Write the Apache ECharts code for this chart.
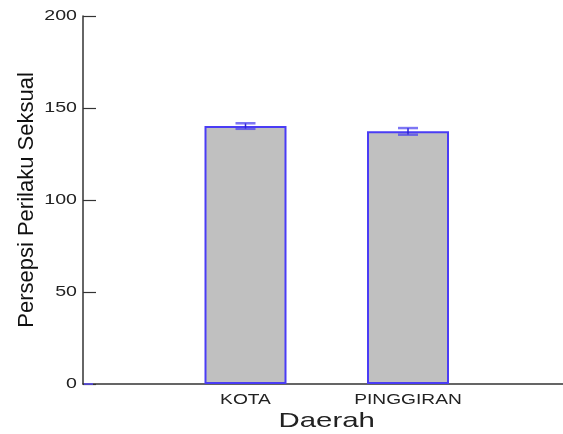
<!DOCTYPE html>
<html>
<head>
<meta charset="utf-8">
<script src="https://cdn.jsdelivr.net/npm/echarts@6/dist/echarts.min.js"></script>
<style>
  html, body { margin: 0; padding: 0; background: #fff; }
  #chart { width: 563px; height: 434px; }
</style>
</head>
<body>
<div id="chart"></div>
<script>
// Mean perception score per region, with its error margin
const categories = ['KOTA', 'PINGGIRAN'];
const means = [140.2, 137.3];
const errors = [1.5, 1.8];
const yTickValues = [0, 50, 100, 150, 200];
const yTickLabels = ['0', '50', '100', '150', '200'];

// Pad the category axis so the bars sit at positions 1 and 2 of 0..3
const axisCats = [''].concat(categories, ['']);
const barData = [null].concat(means, [null]);
const errData = categories.map((c, i) => [i + 1, means[i], errors[i]]);

const FONT = 'Liberation Sans, Arial, sans-serif';
const WIDE = 1.4; // the labels use a wide, stretched face
const chart = echarts.init(document.getElementById('chart'), null, { renderer: 'canvas' });

chart.setOption({
  animation: false,
  backgroundColor: '#ffffff',
  grid: { left: 83, top: 16, height: 368, width: 487.5, containLabel: false, outerBoundsMode: 'none' },
  xAxis: {
    type: 'category',
    data: axisCats,
    boundaryGap: false,
    axisLine: { lineStyle: { color: '#333', width: 1.5 } },
    axisTick: { show: false },
    axisLabel: { show: false },
    splitLine: { show: false }
  },
  yAxis: {
    type: 'value',
    min: yTickValues[0],
    max: yTickValues[yTickValues.length - 1],
    interval: yTickValues[1] - yTickValues[0],
    name: 'Persepsi Perilaku Seksual',
    nameLocation: 'middle',
    nameGap: 45,
    nameTextStyle: { fontFamily: FONT, fontSize: 22, color: '#111' },
    axisLine: { show: true, lineStyle: { color: '#333', width: 1.5 } },
    axisTick: { show: true, inside: true, length: 13, lineStyle: { color: '#333', width: 1.2 } },
    axisLabel: { show: false },
    splitLine: { show: false }
  },
  series: [
    {
      type: 'bar',
      data: barData,
      barWidth: 82,
      itemStyle: { color: '#c0c0c0', borderColor: '#4a3cf5', borderWidth: 2 },
      z: 2
    },
    {
      type: 'custom',
      data: errData,
      z: 5,
      renderItem: function (params, api) {
        const x = api.value(0), m = api.value(1), e = api.value(2);
        const top = api.coord([x, m + e]);
        const bot = api.coord([x, m - e]);
        const half = 10;
        const capStyle = { stroke: 'rgba(70,60,240,0.7)', lineWidth: 2.5 };
        return {
          type: 'group',
          children: [
            { type: 'line', shape: { x1: top[0], y1: top[1], x2: bot[0], y2: bot[1] },
              style: { stroke: '#2a1fd0', lineWidth: 1.5 } },
            { type: 'line', shape: { x1: top[0] - half, y1: top[1], x2: top[0] + half, y2: top[1] },
              style: capStyle },
            { type: 'line', shape: { x1: bot[0] - half, y1: bot[1], x2: bot[0] + half, y2: bot[1] },
              style: capStyle }
          ]
        };
      }
    }
  ]
});

// Axis labels and the x-axis title, placed from the axes' own scales
const axisX = chart.convertToPixel({ xAxisIndex: 0 }, 0);
const axisY0 = chart.convertToPixel({ yAxisIndex: 0 }, 0);
const gridRight = chart.convertToPixel({ xAxisIndex: 0 }, axisCats.length - 1);
const graphics = [];

function wideText(x, y, text, size, align, sx) {
  return {
    type: 'text', x: x, y: y, scaleX: sx, originX: 0, originY: 0,
    style: { text: text, fontFamily: FONT, fontSize: size, fill: '#222',
             align: align, verticalAlign: 'middle' }
  };
}

yTickValues.forEach((v, i) => {
  const y = chart.convertToPixel({ yAxisIndex: 0 }, v);
  graphics.push(wideText(axisX - 6, y, yTickLabels[i], 14, 'right', WIDE));
});

categories.forEach((c, i) => {
  const x = chart.convertToPixel({ xAxisIndex: 0 }, i + 1);
  graphics.push(wideText(x, axisY0 + 16, c, 14, 'center', WIDE - 0.03));
});

const midX = (axisX + gridRight) / 2;
graphics.push(wideText(midX, axisY0 + 37, 'Daerah', 21, 'center', WIDE));

// Zero tick drawn in the bar outline colour
graphics.push({
  type: 'line', z: 10,
  shape: { x1: axisX + 1, y1: axisY0, x2: axisX + 10, y2: axisY0 },
  style: { stroke: '#5a4cf5', lineWidth: 1.5 }
});

chart.setOption({ graphic: graphics });
</script>
</body>
</html>
